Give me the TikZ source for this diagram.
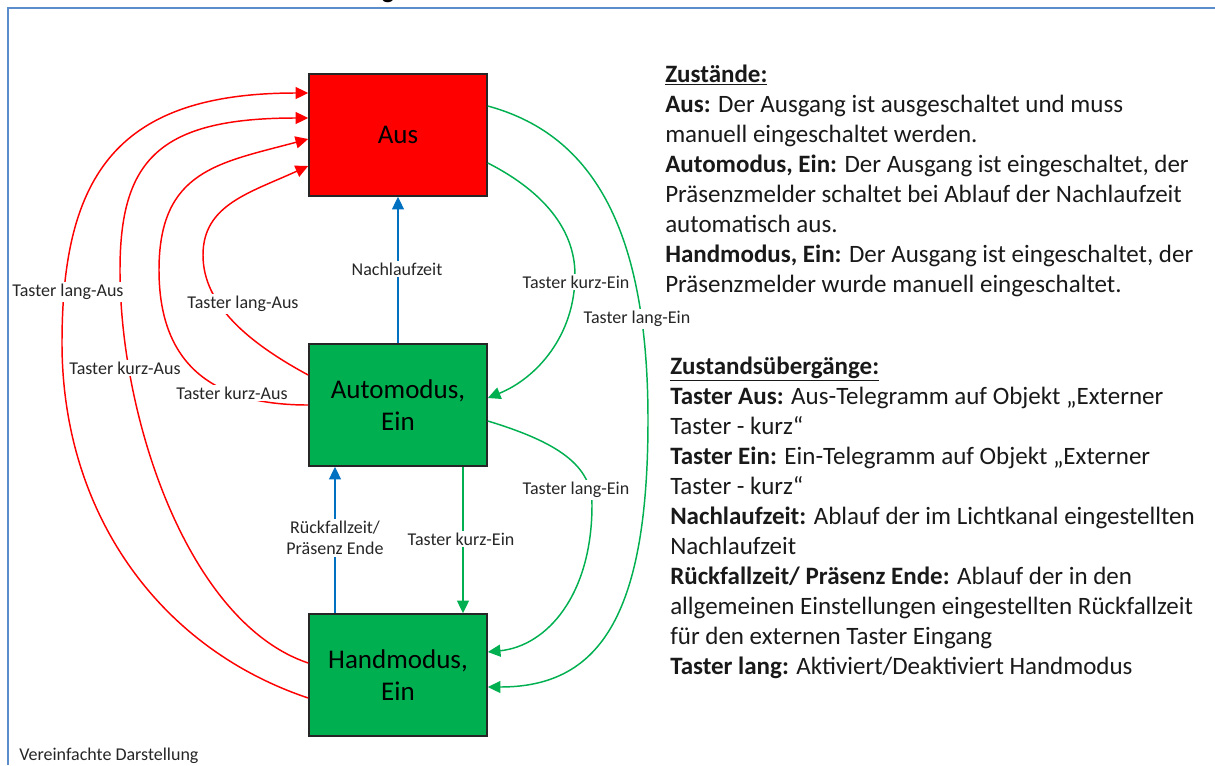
\documentclass[tikz,border=0pt]{standalone}
\usepackage{fontspec}
\setmainfont{Carlito}
\usetikzlibrary{arrows.meta}
\definecolor{cred}{RGB}{255,0,0}
\definecolor{cgreen}{RGB}{0,176,80}
\definecolor{cblue}{RGB}{0,112,192}
\definecolor{cframe}{RGB}{91,141,205}
\begin{document}
\begin{tikzpicture}[x=0.75pt,y=-0.75pt,
  statebox/.style={draw=black!85, line width=1.2pt, minimum width=133.5pt, minimum height=91.5pt,
    inner sep=0pt, align=center, font=\fontsize{20.25}{24}\selectfont},
  tip/.style={-{Triangle[length=9.5pt,width=9pt]}},
  redl/.style={draw=cred, line width=1.1pt, tip},
  greenl/.style={draw=cgreen, line width=1.1pt, tip},
  bluel/.style={draw=cblue, line width=1.1pt, tip},
  lbl/.style={fill=white, inner sep=1.5pt, text=black!85, font=\fontsize{13.5}{15.75}\selectfont, align=center},
  rt/.style={anchor=base west, inner sep=0pt, text=black!90, font=\fontsize{18.75}{22.5}\selectfont}]
\useasboundingbox (0,0) rectangle (1215,765);
% frame and title fragment
\node[font=\bfseries\fontsize{18.75}{20}\selectfont, anchor=base, inner sep=0pt] (title) at (388,-1.5) {g};
\draw[cframe, line width=1.5pt] (1215,8) -- (7.5,8) -- (7.5,765);
% states
\node[statebox, fill=cred] (aus) at (398,135) {Aus};
\node[statebox, fill=cgreen] (auto) at (398,405) {Automodus,\\Ein};
\node[statebox, fill=cgreen] (hand) at (398,675) {Handmodus,\\Ein};
% red transitions to Aus
\draw[redl] (hand.west |- 0,698) .. controls (159,648) and (62,513) .. (62,343) .. controls (62,173) and (119,93) .. (aus.west |- 0,93);
\draw[redl] (hand.west |- 0,663) .. controls (189,623) and (120,420) .. (120,270) .. controls (120,160) and (159,118) .. (aus.west |- 0,118);
\draw[redl] (auto.west |- 0,405) .. controls (219,405) and (159,370) .. (159,270) .. controls (159,170) and (219,163) .. (aus.west |- 0,139);
\draw[redl] (auto.west |- 0,375) .. controls (249,343) and (203,305) .. (203,255) .. controls (203,205) and (249,193) .. (aus.west |- 0,166);
% green transitions
\draw[greenl] (aus.east |- 0,163) .. controls (537,188) and (575,225) .. (575,275) .. controls (575,335) and (537,378) .. (auto.east |- 0,398);
\draw[greenl] (aus.east |- 0,106) .. controls (587,133) and (648,220) .. (648,420) .. controls (648,620) and (597,687) .. (hand.east |- 0,687);
\draw[greenl] (auto.east |- 0,421) .. controls (557,442) and (592,465) .. (592,505) .. controls (592,595) and (547,646) .. (hand.east |- 0,652);
\draw[greenl] (auto.south -| 463,0) -- (hand.north -| 463,0);
% blue transitions
\draw[bluel] (auto.north) -- (aus.south);
\draw[bluel] (hand.north -| 335,0) -- (auto.south -| 335,0);
% labels
\node[lbl] (l1) at (68,292) {Taster lang-Aus};
\node[lbl] (l2) at (125,368) {Taster kurz-Aus};
\node[lbl] (l3) at (232,393) {Taster kurz-Aus};
\node[lbl] (l4) at (243,304) {Taster lang-Aus};
\node[lbl] (l5) at (576,282) {Taster kurz-Ein};
\node[lbl] (l6) at (637,319) {Taster lang-Ein};
\node[lbl] (l7) at (576,490) {Taster lang-Ein};
\node[lbl] (l8) at (461,539) {Taster kurz-Ein};
\node[lbl] (l9) at (397,269) {Nachlaufzeit};
\node[lbl] (l10) at (335,538) {Rückfallzeit/\\Präsenz Ende};
\node[lbl, fill=none, anchor=base west, inner sep=0pt] (note) at (19,760) {Vereinfachte Darstellung};
% description texts
\node[rt] (a1) at (665,82) {\underline{\textbf{Zustände:}}};
\node[rt] (a2) at (665,112) {\textbf{Aus:} Der Ausgang ist ausgeschaltet und muss};
\node[rt] (a3) at (665,142) {manuell eingeschaltet werden.};
\node[rt] (a4) at (665,172) {\textbf{Automodus, Ein:} Der Ausgang ist eingeschaltet, der};
\node[rt] (a5) at (665,202) {Präsenzmelder schaltet bei Ablauf der Nachlaufzeit};
\node[rt] (a6) at (665,232) {automatisch aus.};
\node[rt] (a7) at (665,262) {\textbf{Handmodus, Ein:} Der Ausgang ist eingeschaltet, der};
\node[rt] (a8) at (665,292) {Präsenzmelder wurde manuell eingeschaltet.};
\node[rt] (b1) at (670,374) {\underline{\textbf{Zustandsübergänge:}}};
\node[rt] (b2) at (670,404) {\textbf{Taster Aus:} Aus-Telegramm auf Objekt „Externer};
\node[rt] (b3) at (670,434) {Taster - kurz“};
\node[rt] (b4) at (670,464) {\textbf{Taster Ein:} Ein-Telegramm auf Objekt „Externer};
\node[rt] (b5) at (670,494) {Taster - kurz“};
\node[rt] (b6) at (670,524) {\textbf{Nachlaufzeit:} Ablauf der im Lichtkanal eingestellten};
\node[rt] (b7) at (670,554) {Nachlaufzeit};
\node[rt] (b8) at (670,584) {\textbf{Rückfallzeit/ Präsenz Ende:} Ablauf der in den};
\node[rt] (b9) at (670,614) {allgemeinen Einstellungen eingestellten Rückfallzeit};
\node[rt] (b10) at (670,644) {für den externen Taster Eingang};
\node[rt] (b11) at (670,674) {\textbf{Taster lang:} Aktiviert/Deaktiviert Handmodus};
\end{tikzpicture}
\end{document}
